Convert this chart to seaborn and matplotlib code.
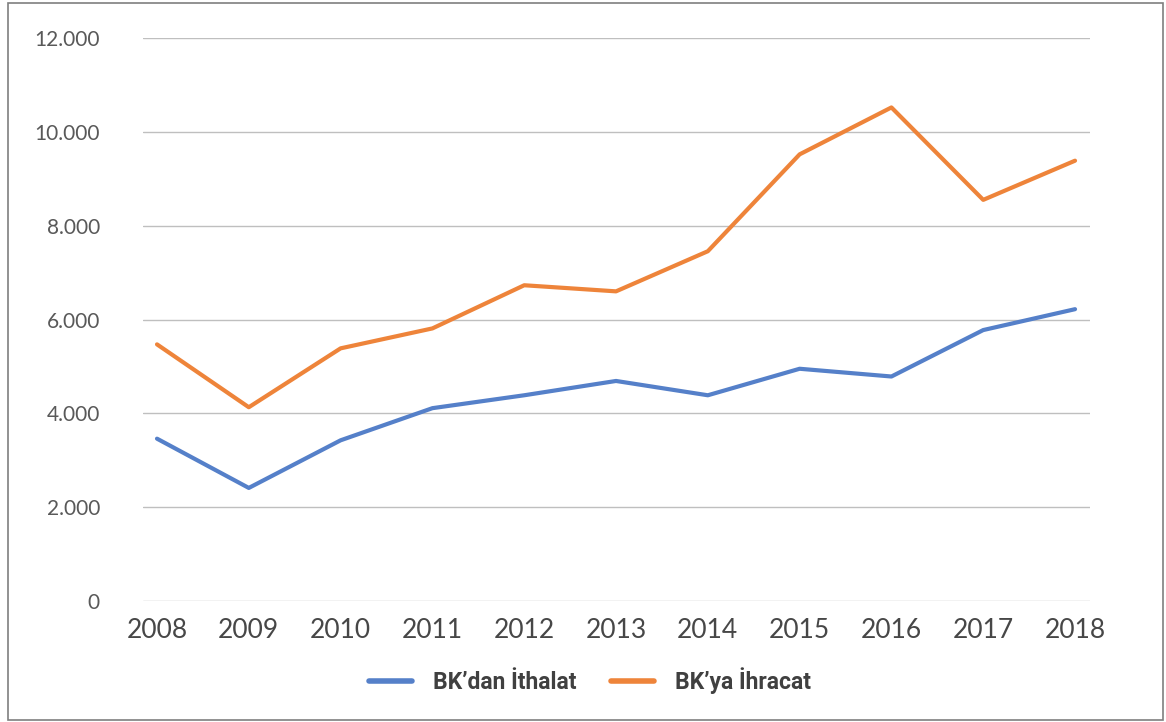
import matplotlib
matplotlib.use("Agg")
import matplotlib.pyplot as plt
import seaborn as sns
import pandas as pd
from matplotlib.patches import Rectangle
from matplotlib.ticker import FuncFormatter

years = ["2008", "2009", "2010", "2011", "2012", "2013", "2014", "2015", "2016", "2017", "2018"]
ithalat = [3460, 2410, 3425, 4110, 4385, 4690, 4385, 4950, 4785, 5775, 6220]
ihracat = [5470, 4130, 5385, 5810, 6730, 6600, 7455, 9520, 10520, 8550, 9385]
series_names = ["BK\u2019dan \u0130thalat", "BK\u2019ya \u0130hracat"]
colors = ["#5580C9", "#EE843A"]
y_ticks = [0, 2000, 4000, 6000, 8000, 10000, 12000]

df = pd.DataFrame({
    "idx": list(range(len(years))) * 2,
    "value": ithalat + ihracat,
    "series": [series_names[0]] * len(years) + [series_names[1]] * len(years),
})

sns.set_theme(style="white")
plt.rcParams["font.family"] = ["Lato", "DejaVu Sans"]

fig = plt.figure(figsize=(11.66, 7.22), dpi=100)
W, H = 1166, 722
ax = fig.add_axes([143 / W, (H - 601) / H, (1090 - 143) / W, (601 - 38) / H])

sns.lineplot(data=df, x="idx", y="value", hue="series", palette=colors,
             linewidth=3.0, ax=ax, legend=False, sort=False)

ax.set_xlim(-0.1525, 10.163)
ax.set_ylim(0, 12000)
ax.set_yticks(y_ticks)
ax.yaxis.set_major_formatter(FuncFormatter(lambda v, p: f"{int(v):,}".replace(",", ".")))
ax.set_xticks(range(len(years)))
ax.set_xticklabels(years)
ax.grid(axis="y", color="#BFBFBF", linewidth=1.0)
ax.set_axisbelow(True)
for s in ax.spines.values():
    s.set_visible(False)
ax.tick_params(axis="y", length=0, pad=31, labelsize=15, labelcolor="#595959")
ax.tick_params(axis="x", length=0, pad=12, labelsize=19, labelcolor="#474747")
ax.set_xlabel("")
ax.set_ylabel("")

handles = [plt.Line2D([], [], color=c, linewidth=4) for c in colors]
leg = fig.legend(handles, series_names, loc="center", bbox_to_anchor=(0.506, (H - 681) / H),
                 ncol=2, frameon=False, handlelength=1.9, columnspacing=1.5, handletextpad=0.9,
                 prop={"family": ["Roboto", "DejaVu Sans"], "weight": "bold", "size": 16.5})
for t in leg.get_texts():
    t.set_color("#404040")

fig.patches.append(Rectangle((8 / W, 2 / H), (1163 - 8) / W, (719 - 2) / H,
                             transform=fig.transFigure, fill=False,
                             edgecolor="#7F7F7F", linewidth=1.2))

fig.savefig("out.png", dpi=100)
